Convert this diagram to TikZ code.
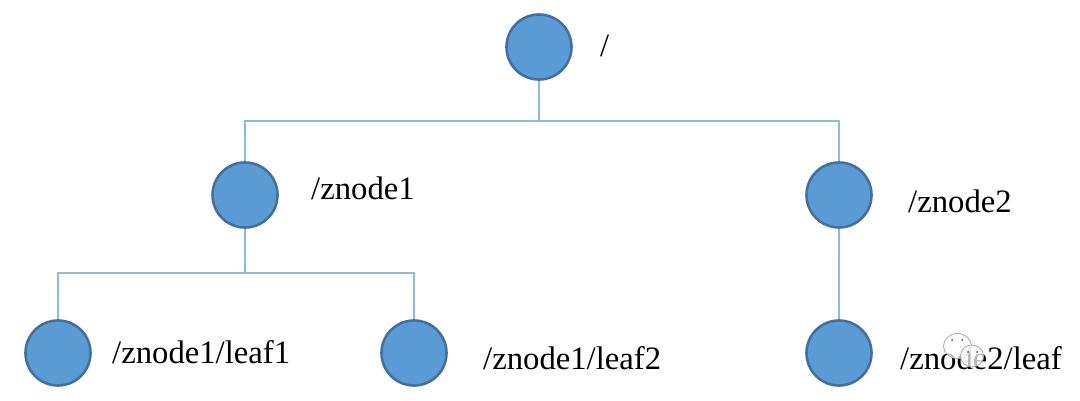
\documentclass[tikz,border=0pt]{standalone}
\usepackage{fontspec}
\setmainfont{Liberation Serif}
\definecolor{fillblue}{HTML}{5B9BD5}
\definecolor{edgeblue}{HTML}{41719C}
\definecolor{linkblue}{HTML}{8DB9E3}
\definecolor{markgray}{HTML}{A8A8A8}
\tikzset{
  treenode/.style={circle,draw=edgeblue,fill=fillblue,line width=2.6pt,minimum size=65pt,inner sep=0pt},
  link/.style={draw=linkblue,line width=1.6pt},
  tag/.style={anchor=base west,inner sep=0pt,font=\fontsize{32.7pt}{36pt}\selectfont,text=black},
  markface/.style={draw=markgray,line width=0.8pt,fill=white,fill opacity=0.72},
  markeye/.style={fill=black!70,draw=none}
}
\begin{document}
\begin{tikzpicture}[x=1pt,y=-1pt]
\useasboundingbox[fill=white] (0,0) rectangle (1080,401);
\node[treenode] (root) at (539,47) {};
\node[treenode] (za) at (245,195) {};
\node[treenode] (zb) at (839,195) {};
\node[treenode] (la) at (58,353) {};
\node[treenode] (lb) at (414,353) {};
\node[treenode] (lc) at (839,353) {};
\coordinate (busa) at (539,121);
\coordinate (busb) at (245,273);
\draw[link] (za.north) -- (za|-busa) -- (zb|-busa) -- (zb.north);
\draw[link] (root.south) -- (busa);
\draw[link] (la.north) -- (la|-busb) -- (lb|-busb) -- (lb.north);
\draw[link] (za.south) -- (busb);
\draw[link] (zb.south) -- (lc.north);
\node[tag] (troot) at (600,57) {/};
\node[tag] (tza) at (311,199.5) {/znode1};
\node[tag] (tzb) at (908,212) {/znode2};
\node[tag] (tla) at (112,363.5) {/znode1/leaf1};
\node[tag] (tlb) at (483,369) {/znode1/leaf2};
\node[tag] (tlc) at (900,369) {/znode2/leaf};
% faint watermark
\draw[markface] (957.5,346) ellipse (14pt and 12.5pt);
\draw[markface] (972,356) ellipse (11.5pt and 11pt);
\fill[markeye] (952,340) circle (1pt) (962,340) circle (1pt) (968,352) circle (1pt) (977,352) circle (1pt);
\end{tikzpicture}
\end{document}
